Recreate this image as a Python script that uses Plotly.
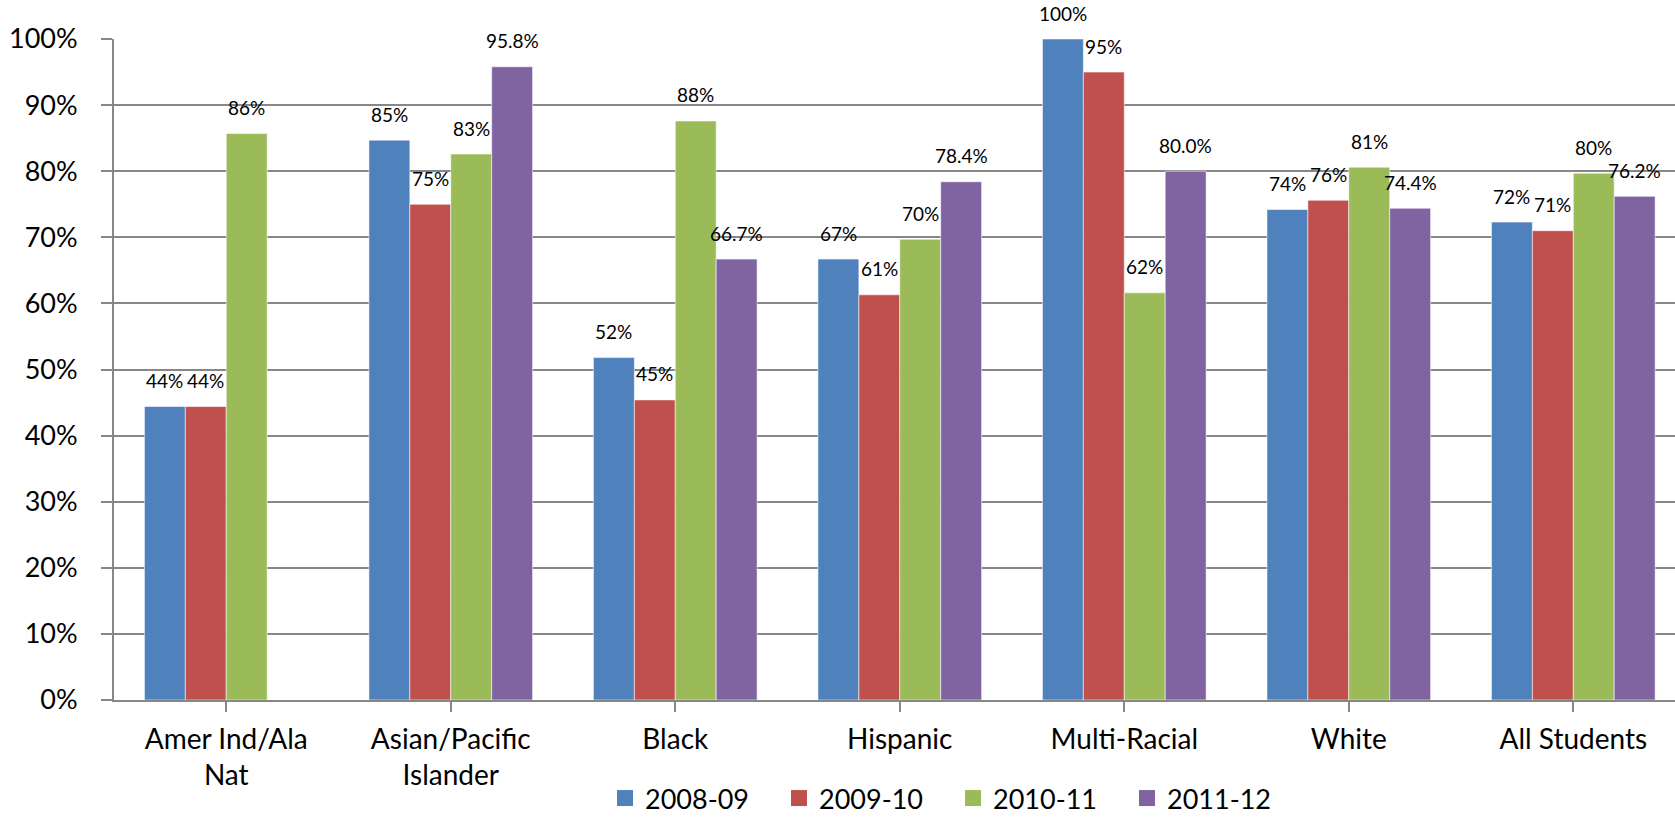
import plotly.graph_objects as go

# Graduation rates by student group and school year
tick_labels = ["Amer Ind/Ala<br>Nat", "Asian/Pacific<br>Islander", "Black", "Hispanic",
               "Multi-Racial", "White", "All Students"]
years = ["2008-09", "2009-10", "2010-11", "2011-12"]

rate_2008_09 = [44.4, 84.7, 51.8, 66.7, 100.0, 74.2, 72.3]
rate_2009_10 = [44.4, 75.0, 45.4, 61.3, 95.0, 75.6, 71.0]
rate_2010_11 = [85.7, 82.6, 87.6, 69.7, 61.6, 80.6, 79.7]
rate_2011_12 = [None, 95.8, 66.7, 78.4, 80.0, 74.4, 76.2]

series = [rate_2008_09, rate_2009_10, rate_2010_11, rate_2011_12]
colors = ["#4F81BD", "#C0504D", "#9BBB59", "#8064A2"]
label_formats = ["{:.0f}%", "{:.0f}%", "{:.0f}%", "{:.1f}%"]

FONT = "Lato, 'Open Sans', sans-serif"
GRID = "#878787"

W, H = 1675, 818
M_L, M_R, M_T, M_B = 114, 0, 39, 118
X_RANGE = [-0.5, 6.453]
BARGAP = 0.271
LEGEND_X0, LEGEND_STEP = 605, 174   # px: first entry start, spacing between entries

plot_w = W - M_L - M_R
plot_h = H - M_T - M_B
x_idx = list(range(len(tick_labels)))
legend_ids = ["legend"] + [f"legend{n}" for n in range(2, len(years) + 1)]

fig = go.Figure()
for name, vals, col in zip(years, series, colors):
    fig.add_trace(go.Bar(
        x=x_idx, y=vals, name=name, legendgroup=name, showlegend=False,
        marker=dict(color=col, line=dict(color="rgba(255,255,255,0.55)", width=1)),
    ))

# legend entries with larger square swatches, one legend box per year
for name, col, lid in zip(years, colors, legend_ids):
    fig.add_trace(go.Scatter(
        x=[None], y=[None], name=name, legendgroup=name, mode="markers",
        marker=dict(symbol="square", size=16, color=col),
        hoverinfo="skip", legend=lid,
    ))

# value labels above each bar, offset to the bar's slot inside its group
px_per_cat = plot_w / (X_RANGE[1] - X_RANGE[0])
bar_w = px_per_cat * (1 - BARGAP) / len(series)
annotations = []
for k, (vals, fmt) in enumerate(zip(series, label_formats)):
    for i, v in enumerate(vals):
        if v is None:
            continue
        annotations.append(dict(
            x=i, y=v, xref="x", yref="y", text=fmt.format(v),
            showarrow=False, xanchor="center", yanchor="middle",
            xshift=(k - (len(series) - 1) / 2) * bar_w, yshift=26,
            font=dict(family=FONT, size=19, color="black"),
        ))

legend_layout = {}
for n, lid in enumerate(legend_ids):
    legend_layout[lid] = dict(
        orientation="h", x=(LEGEND_X0 + n * LEGEND_STEP - M_L) / plot_w, xanchor="left",
        y=-74 / plot_h, yanchor="top",
        font=dict(family=FONT, size=27, color="black"),
        bgcolor="rgba(0,0,0,0)",
    )

fig.update_layout(
    width=W, height=H,
    margin=dict(l=M_L, r=M_R, t=M_T, b=M_B, pad=0, autoexpand=False),
    paper_bgcolor="white", plot_bgcolor="white",
    barmode="group", bargap=BARGAP, bargroupgap=0,
    font=dict(family=FONT, size=28, color="black"),
    annotations=annotations,
    showlegend=True,
    **legend_layout,
)

fig.update_xaxes(
    range=X_RANGE, tickmode="array", tickvals=x_idx, ticktext=tick_labels,
    showline=True, linecolor=GRID, linewidth=2,
    ticks="outside", ticklen=10, tickwidth=2, tickcolor=GRID,
    tickson="boundaries", showgrid=False, zeroline=False,
    tickfont=dict(family=FONT, size=28, color="black"),
    ticklabelstandoff=3, tickangle=0, automargin=False,
)
fig.update_yaxes(
    range=[0, 100], dtick=10, ticksuffix="%",
    showline=True, linecolor=GRID, linewidth=2,
    ticks="outside", ticklen=11, tickwidth=2, tickcolor=GRID,
    showgrid=True, gridcolor=GRID, gridwidth=2, zeroline=False,
    tickfont=dict(family=FONT, size=27, color="black"),
    ticklabelstandoff=18, automargin=False,
)

fig.write_html("out.html")
